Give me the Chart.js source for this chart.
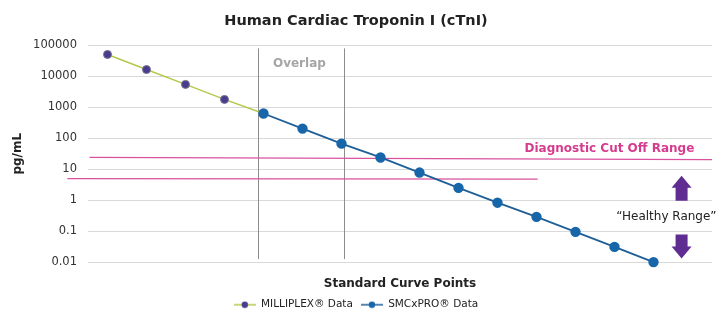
<!DOCTYPE html>
<html>
<head>
<meta charset="utf-8">
<script src="https://cdn.jsdelivr.net/npm/chart.js@4.4.0/dist/chart.umd.min.js"></script>
<style>
html, body { margin: 0; padding: 0; background: #fff; }
#wrap { width: 726px; height: 326px; position: relative; }
</style>
</head>
<body>
<div id="wrap"><canvas id="myChart"></canvas></div>
<script>
// standard curve points (16 slots, last one empty)
const curvePoints = ['1', '2', '3', '4', '5', '6', '7', '8', '9', '10', '11', '12', '13', '14', '15', '16'];
const milliplexValues = [51000, 16600, 5500, 1800, 630];
const smcxproValues = [null, null, null, null, 630, 205, 67, 24, 7.8, 2.5, 0.83, 0.29, 0.095, 0.031, 0.01];
const yTicks = [0.01, 0.1, 1, 10, 100, 1000, 10000, 100000];
const yTickLabels = ['0.01', '0.1', '1', '10', '100', '1000', '10000', '100000'];

// annotations, in axis units (category index, pg/mL)
const overlapRange = [3.85, 6.07];
const cutOffUpper = [[-0.46, 24], [15.5, 20.5]];
const cutOffLower = [[-1.03, 5], [11.03, 4.8]];

const FONT = "'DejaVu Sans', Verdana, sans-serif";

function legendIcon(lineColor, dotColor) {
    const c = document.createElement('canvas');
    c.width = 22; c.height = 8;
    const g = c.getContext('2d');
    g.strokeStyle = lineColor; g.lineWidth = 1.5;
    g.beginPath(); g.moveTo(0, 4); g.lineTo(22, 4); g.stroke();
    g.fillStyle = dotColor;
    g.beginPath(); g.arc(11, 4, 3.2, 0, Math.PI * 2); g.fill();
    return c;
}

const annotations = {
    id: 'annotations',
    beforeDatasetsDraw(chart) {
        const { ctx, scales: { x, y } } = chart;
        ctx.save();
        // overlap bounds
        ctx.strokeStyle = '#8c8c8c';
        ctx.lineWidth = 1;
        overlapRange.forEach(v => {
            const px = Math.round(x.getPixelForValue(v)) + 0.5;
            ctx.beginPath();
            ctx.moveTo(px, y.top + 3);
            ctx.lineTo(px, y.bottom - 3);
            ctx.stroke();
        });
        // cut off lines
        ctx.strokeStyle = '#d9529f';
        ctx.lineWidth = 1.3;
        [cutOffUpper, cutOffLower].forEach(l => {
            ctx.beginPath();
            ctx.moveTo(x.getPixelForValue(l[0][0]), y.getPixelForValue(l[0][1]));
            ctx.lineTo(x.getPixelForValue(l[1][0]), y.getPixelForValue(l[1][1]));
            ctx.stroke();
        });
        ctx.restore();
    },
    afterDatasetsDraw(chart) {
        const { ctx, scales: { x, y } } = chart;
        ctx.save();
        ctx.textAlign = 'center';
        ctx.textBaseline = 'middle';

        ctx.fillStyle = '#a6a6a6';
        ctx.font = 'bold 12px ' + FONT;
        ctx.fillText('Overlap', x.getPixelForValue(4.92), y.getPixelForValue(24500));

        ctx.fillStyle = '#d63c8e';
        ctx.font = 'bold 12px ' + FONT;
        ctx.fillText('Diagnostic Cut Off Range', x.getPixelForValue(12.87), y.getPixelForValue(47));

        ctx.fillStyle = '#222';
        ctx.font = '12px ' + FONT;
        ctx.fillText('\u201CHealthy Range\u201D', x.getPixelForValue(14.33), y.getPixelForValue(0.29));

        // arrows
        const ax = x.getPixelForValue(14.72);
        ctx.fillStyle = '#5f2d91';
        let t = y.getPixelForValue(6.2);
        ctx.beginPath();
        ctx.moveTo(ax, t);
        ctx.lineTo(ax + 10, t + 12);
        ctx.lineTo(ax + 6, t + 12);
        ctx.lineTo(ax + 6, t + 25);
        ctx.lineTo(ax - 6, t + 25);
        ctx.lineTo(ax - 6, t + 12);
        ctx.lineTo(ax - 10, t + 12);
        ctx.closePath();
        ctx.fill();
        t = y.getPixelForValue(0.013);
        ctx.beginPath();
        ctx.moveTo(ax, t);
        ctx.lineTo(ax + 10, t - 12);
        ctx.lineTo(ax + 6, t - 12);
        ctx.lineTo(ax + 6, t - 24);
        ctx.lineTo(ax - 6, t - 24);
        ctx.lineTo(ax - 6, t - 12);
        ctx.lineTo(ax - 10, t - 12);
        ctx.closePath();
        ctx.fill();
        ctx.restore();
    }
};

const ctx = document.getElementById('myChart').getContext('2d');
new Chart(ctx, {
    type: 'line',
    data: {
        labels: curvePoints,
        datasets: [
            {
                label: 'MILLIPLEX\u00AE Data',
                data: milliplexValues,
                borderColor: '#b3c94c',
                borderWidth: 1.5,
                backgroundColor: '#4b3b8c',
                pointBackgroundColor: '#4b3b8c',
                pointBorderColor: '#77718f',
                pointBorderWidth: 1,
                pointRadius: [4, 4, 4, 4, 0],
                order: 1,
                clip: false,
                tension: 0
            },
            {
                label: 'SMCxPRO\u00AE Data',
                data: smcxproValues,
                borderColor: '#1f5f97',
                borderWidth: 1.8,
                backgroundColor: '#1766a9',
                pointBackgroundColor: '#1766a9',
                pointBorderColor: '#1766a9',
                pointRadius: 4.3,
                order: 0,
                clip: false,
                tension: 0
            }
        ]
    },
    options: {
        responsive: true,
        maintainAspectRatio: false,
        animation: false,
        layout: { padding: { left: 0, right: 14, top: 0, bottom: 6 } },
        plugins: {
            title: {
                display: true,
                text: 'Human Cardiac Troponin I (cTnI)',
                color: '#222',
                font: { family: FONT, size: 14.5, weight: 'bold' },
                padding: { top: 13, bottom: 15 }
            },
            legend: {
                position: 'bottom',
                labels: {
                    color: '#222',
                    font: { family: FONT, size: 10.5 },
                    usePointStyle: true,
                    pointStyleWidth: 22,
                    padding: 8,
                    generateLabels(chart) {
                        return chart.data.datasets.map((ds, i) => ({
                            text: ds.label,
                            datasetIndex: i,
                            pointStyle: i === 0 ? legendIcon('#b3c94c', '#4b3b8c') : legendIcon('#1f5f97', '#1766a9'),
                            fillStyle: ds.backgroundColor,
                            strokeStyle: ds.borderColor,
                            lineWidth: 0,
                            fontColor: '#222'
                        }));
                    }
                }
            },
            tooltip: { enabled: false }
        },
        scales: {
            x: {
                type: 'category',
                offset: true,
                grid: { display: false },
                border: { display: false },
                ticks: { display: false },
                title: {
                    display: true,
                    text: 'Standard Curve Points',
                    color: '#222',
                    font: { family: FONT, size: 12, weight: 'bold' },
                    padding: { top: 7, bottom: 0 }
                }
            },
            y: {
                type: 'logarithmic',
                min: 0.01,
                max: 100000,
                afterBuildTicks(scale) {
                    scale.ticks = yTicks.map(v => ({ value: v }));
                },
                afterFit(scale) { scale.width = 88; },
                grid: { color: '#d9d9d9', drawTicks: false },
                border: { display: false },
                ticks: {
                    color: '#333',
                    padding: 11,
                    font: { family: FONT, size: 11.5 },
                    callback: (v) => yTickLabels[yTicks.indexOf(v)]
                },
                title: {
                    display: true,
                    text: 'pg/mL',
                    color: '#222',
                    font: { family: FONT, size: 12, weight: 'bold' },
                    padding: { top: 11, bottom: 0 }
                }
            }
        }
    },
    plugins: [annotations]
});
</script>
</body>
</html>
